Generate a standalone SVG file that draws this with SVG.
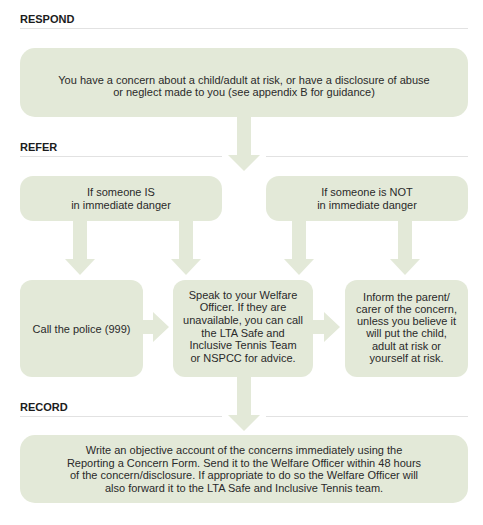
<svg xmlns="http://www.w3.org/2000/svg" width="483" height="525" viewBox="0 0 483 525">
<style>
.bg{fill:#ffffff}
.box{fill:#e3e9d8}
.arr{fill:#e3e9d8}
.rule{stroke:#e2e2e2;stroke-width:1;fill:none}
.h{font-family:"Liberation Sans",Arial,sans-serif;font-weight:bold;font-size:11px;fill:#1c1c1c}
.t{font-family:"Liberation Sans",Arial,sans-serif;font-size:11px;fill:#2a2a2a;text-anchor:middle}
</style>
<rect class="bg" x="0" y="0" width="483" height="525"/>
<g id="headings">
<text class="h" x="20" y="23">RESPOND</text>
<line class="rule" x1="20" y1="28.5" x2="468" y2="28.5"/>
<text class="h" x="20" y="151">REFER</text>
<line class="rule" x1="20" y1="156.5" x2="222" y2="156.5"/>
<line class="rule" x1="266" y1="156.5" x2="468" y2="156.5"/>
<text class="h" x="20" y="411">RECORD</text>
<line class="rule" x1="20" y1="416.5" x2="222" y2="416.5"/>
<line class="rule" x1="266" y1="416.5" x2="468" y2="416.5"/>
</g>
<g id="connectors">
<polygon class="arr" points="237,117 251,117 251,155 260,155 244,171 228,155 237,155"/>
<polygon class="arr" points="73,221 87,221 87,259 95,259 80,275 65,259 73,259"/>
<polygon class="arr" points="179,221 193,221 193,259 201,259 186,275 171,259 179,259"/>
<polygon class="arr" points="292,221 306,221 306,259 314,259 299,275 284,259 292,259"/>
<polygon class="arr" points="398,221 412,221 412,259 420,259 405,275 390,259 398,259"/>
<polygon class="arr" points="143,320 153,320 153,312 169,327 153,342 153,334 143,334"/>
<polygon class="arr" points="313,320 324,320 324,312 340,327 324,342 324,334 313,334"/>
<polygon class="arr" points="237,377 251,377 251,415 260,415 244,431 228,415 237,415"/>
</g>
<g id="respond">
<rect class="box" x="20" y="48" width="448" height="69" rx="15"/>
<text class="t" x="244" y="83.5">You have a concern about a child/adult at risk, or have a disclosure of abuse</text>
<text class="t" x="244" y="96">or neglect made to you (see appendix B for guidance)</text>
</g>
<g id="is-danger">
<rect class="box" x="20" y="176" width="202" height="45" rx="13"/>
<text class="t" x="121" y="196">If someone IS</text>
<text class="t" x="121" y="209">in immediate danger</text>
</g>
<g id="not-danger">
<rect class="box" x="266" y="176" width="202" height="45" rx="13"/>
<text class="t" x="367" y="196">If someone is NOT</text>
<text class="t" x="367" y="209">in immediate danger</text>
</g>
<g id="police">
<rect class="box" x="20" y="280" width="123" height="97" rx="12"/>
<text class="t" x="81.5" y="333">Call the police (999)</text>
</g>
<g id="welfare">
<rect class="box" x="173" y="280" width="140" height="97" rx="12"/>
<text class="t" x="243" y="298.5">Speak to your Welfare</text>
<text class="t" x="243" y="311.2">Officer. If they are</text>
<text class="t" x="243" y="323.9">unavailable, you can call</text>
<text class="t" x="243" y="336.6">the LTA Safe and</text>
<text class="t" x="243" y="349.3">Inclusive Tennis Team</text>
<text class="t" x="243" y="362">or NSPCC for advice.</text>
</g>
<g id="inform">
<rect class="box" x="345" y="280" width="123" height="97" rx="12"/>
<text class="t" x="406.5" y="300.5">Inform the parent/</text>
<text class="t" x="406.5" y="312.8">carer of the concern,</text>
<text class="t" x="406.5" y="325.1">unless you believe it</text>
<text class="t" x="406.5" y="337.4">will put the child,</text>
<text class="t" x="406.5" y="349.7">adult at risk or</text>
<text class="t" x="406.5" y="362">yourself at risk.</text>
</g>
<g id="record">
<rect class="box" x="20" y="435" width="448" height="68" rx="15"/>
<text class="t" x="244" y="454">Write an objective account of the concerns immediately using the</text>
<text class="t" x="244" y="466.7">Reporting a Concern Form. Send it to the Welfare Officer within 48 hours</text>
<text class="t" x="244" y="479.4">of the concern/disclosure. If appropriate to do so the Welfare Officer will</text>
<text class="t" x="244" y="492.1">also forward it to the LTA Safe and Inclusive Tennis team.</text>
</g>
</svg>
